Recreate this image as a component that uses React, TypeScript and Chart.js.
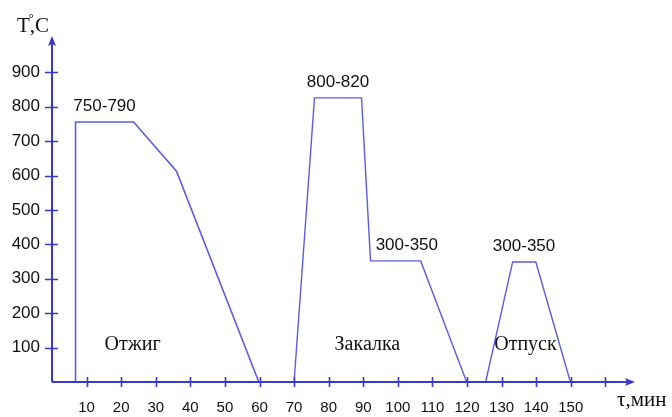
import { useEffect, useRef } from 'react';
import { Chart, registerables } from 'chart.js';

Chart.register(...registerables);

// Heat-treatment schedule: time (min) vs temperature (°C)
const annealX = [6.8, 6.8, 23.6, 36.0, 59.8];
const annealT = [0, 756, 756, 613, 0];
const quenchX = [70, 75.9, 89.5, 92.1, 106.6, 119.9];
const quenchT = [0, 826, 826, 352, 352, 0];
const temperX = [125.4, 133.2, 139.9, 149.9];
const temperT = [0, 349, 349, 0];

const stageNames = ['Отжиг', 'Закалка', 'Отпуск'];
const stageLabelX = [23.3, 91.2, 136.9];
const stageLabelT = [107, 107, 107];

const rangeLabels = ['750-790', '800-820', '300-350', '300-350'];
const rangeLabelX = [15.2, 82.7, 102.6, 136.5];
const rangeLabelT = [756, 826, 352, 349];

const xMax = 168;
const yMax = 1000;
const xStep = 10;
const yStep = 100;
const xLabelMax = 150;

const yTitle = 'T';
const yTitleUnit = 'C';
const xTitle = 'τ,мин';

const AXIS = '#3838cc';
const LINE = '#5c5ce0';
const SANS = '"Liberation Sans", Arial, sans-serif';
const SERIF = '"Liberation Serif", "Times New Roman", serif';

const pts = (xs: number[], ys: number[]) => xs.map((x, i) => ({ x, y: ys[i] }));

const decorPlugin = {
  id: 'decor',
  afterDraw(chart: any) {
    const ctx = chart.ctx as CanvasRenderingContext2D;
    const xs = chart.scales.x;
    const ys = chart.scales.y;
    const x0 = xs.getPixelForValue(0);
    const y0 = ys.getPixelForValue(0);
    const xEnd = xs.getPixelForValue(xMax);
    const yEnd = ys.getPixelForValue(yMax);
    ctx.save();
    ctx.strokeStyle = AXIS;
    ctx.fillStyle = AXIS;
    ctx.lineWidth = 2;
    // axes
    ctx.beginPath();
    ctx.moveTo(x0, y0);
    ctx.lineTo(xEnd - 2, y0);
    ctx.moveTo(x0, y0);
    ctx.lineTo(x0, yEnd + 2);
    ctx.stroke();
    // arrow heads
    ctx.beginPath();
    ctx.moveTo(xEnd + 2, y0);
    ctx.lineTo(xEnd - 8, y0 - 4);
    ctx.lineTo(xEnd - 6, y0);
    ctx.lineTo(xEnd - 8, y0 + 4);
    ctx.closePath();
    ctx.fill();
    ctx.beginPath();
    ctx.moveTo(x0, yEnd - 2);
    ctx.lineTo(x0 - 4, yEnd + 8);
    ctx.lineTo(x0, yEnd + 6);
    ctx.lineTo(x0 + 4, yEnd + 8);
    ctx.closePath();
    ctx.fill();
    // tick marks crossing the axes
    ctx.lineWidth = 1.6;
    ctx.beginPath();
    xs.ticks.forEach((t: any) => {
      if (t.value <= 0 || t.value >= xMax) return;
      const p = Math.round(xs.getPixelForValue(t.value)) + 0.5;
      ctx.moveTo(p, y0 - 5);
      ctx.lineTo(p, y0 + 5);
    });
    ys.ticks.forEach((t: any) => {
      if (t.value <= 0 || t.value >= yMax) return;
      const p = Math.round(ys.getPixelForValue(t.value)) + 0.5;
      ctx.moveTo(x0 - 7, p);
      ctx.lineTo(x0 + 6, p);
    });
    ctx.stroke();

    // range labels above plateaus
    ctx.fillStyle = '#111';
    ctx.textAlign = 'center';
    ctx.textBaseline = 'middle';
    ctx.font = `17px ${SANS}`;
    rangeLabels.forEach((s, i) => {
      ctx.fillText(s, xs.getPixelForValue(rangeLabelX[i]), ys.getPixelForValue(rangeLabelT[i]) - 16);
    });
    // stage names
    ctx.font = `20px ${SERIF}`;
    stageNames.forEach((s, i) => {
      ctx.fillText(s, xs.getPixelForValue(stageLabelX[i]), ys.getPixelForValue(stageLabelT[i]));
    });
    // axis titles
    ctx.textAlign = 'left';
    ctx.font = `21px ${SERIF}`;
    const tx = 17;
    const ty = 26;
    ctx.fillText(yTitle, tx, ty);
    const w = ctx.measureText(yTitle).width;
    ctx.fillText(',', tx + w, ty);
    const cw = ctx.measureText(',').width;
    ctx.font = `12px ${SERIF}`;
    ctx.fillText('°', tx + w - 1, ty - 7);
    ctx.font = `21px ${SERIF}`;
    ctx.fillText(yTitleUnit, tx + w + cw, ty);
    ctx.fillText(xTitle, xEnd - 16, y0 + 18);
    ctx.restore();
  },
};

export default function App() {
  const ref = useRef<HTMLCanvasElement | null>(null);
  useEffect(() => {
    document.body.style.margin = '0';
    const canvas = ref.current;
    if (!canvas) return;
    const ds = (xs: number[], ys: number[], w: number) => ({
      data: pts(xs, ys),
      borderColor: LINE,
      borderWidth: w,
      pointRadius: 0,
      tension: 0,
      fill: false,
    });
    const chart = new Chart(canvas, {
      type: 'line',
      data: {
        datasets: [ds(annealX, annealT, 1.6), ds(quenchX, quenchT, 1.4), ds(temperX, temperT, 1.4)],
      },
      options: {
        animation: false,
        responsive: false,
        devicePixelRatio: 1,
        layout: { padding: { top: 38, right: 39, left: 0, bottom: 0 } },
        plugins: { legend: { display: false }, tooltip: { enabled: false } },
        scales: {
          x: {
            type: 'linear',
            min: 0,
            max: xMax,
            grid: { display: false, drawTicks: false },
            border: { display: false },
            afterFit: (s: any) => { s.height = 35; },
            ticks: {
              stepSize: xStep,
              includeBounds: false,
              autoSkip: false,
              maxRotation: 0,
              padding: 17,
              color: '#111',
              font: { family: SANS, size: 15 },
              callback: (v: any) => (v > 0 && v <= xLabelMax ? String(v) : ''),
            },
          },
          y: {
            type: 'linear',
            min: 0,
            max: yMax,
            grid: { display: false, drawTicks: false },
            border: { display: false },
            afterFit: (s: any) => { s.width = 52; },
            ticks: {
              stepSize: yStep,
              includeBounds: false,
              autoSkip: false,
              padding: 12,
              color: '#111',
              font: { family: SANS, size: 17 },
              callback: (v: any) => (v > 0 && v < yMax ? String(v) : ''),
            },
          },
        },
      },
      plugins: [decorPlugin],
    });
    return () => chart.destroy();
  }, []);
  return (
    <div style={{ width: 672, height: 417, background: '#fff' }}>
      <canvas ref={ref} width={672} height={417} />
    </div>
  );
}
